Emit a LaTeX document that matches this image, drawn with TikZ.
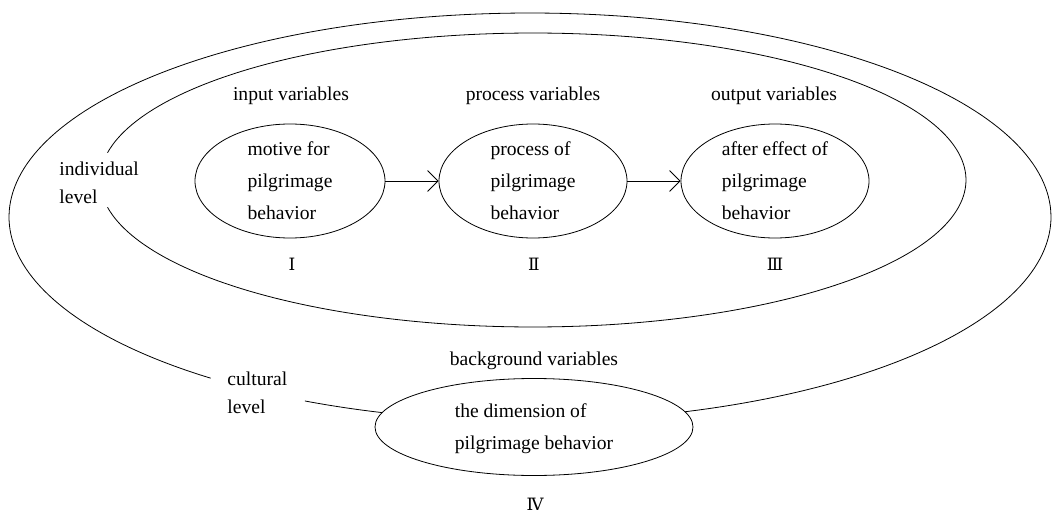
\documentclass[tikz,border=0pt]{standalone}
\usepackage{fontspec}
\setmainfont{Liberation Serif}
\newfontfamily\romfont{DejaVu Serif}
\usetikzlibrary{shapes.geometric,arrows.meta}
\begin{document}
\begin{tikzpicture}[x=1pt,y=-1pt,
  line width=0.8pt,
  txt/.style={inner sep=0pt, font=\fontsize{19.6}{28}\selectfont},
  oval/.style={ellipse, draw, inner sep=0pt, align=left, text depth=0pt,
     font=\fontsize{19.6}{32}\selectfont},
  num/.style={inner sep=0pt, anchor=base, font=\romfont\fontsize{17}{20}\selectfont},
  conn/.style={-{Straight Barb[length=10.5pt,width=21pt,line width=0.8pt]}}
]
\useasboundingbox (0,0) rectangle (1052,516);
% outer ellipse (cultural level)
\draw plot[domain=127.8:450, samples=240] ({530+521*cos(\x)}, {217+204*sin(\x)});
\draw plot[domain=90:115.6, samples=40] ({530+521*cos(\x)}, {217+204*sin(\x)});
% inner ellipse (individual level)
\draw plot[domain=-169.3:169.3, samples=240] ({533+433*cos(\x)}, {180+147*sin(\x)});
% variable ellipses
\node[oval, minimum width=190pt, minimum height=114pt] (I) at (290,181)
  {motive for\\pilgrimage\\behavior};
\node[oval, minimum width=188pt, minimum height=114pt] (II) at (533,181)
  {process of\\pilgrimage\\behavior};
\node[oval, minimum width=188pt, minimum height=114pt] (III) at (775,181)
  {after effect of\\pilgrimage\\behavior};
\node[oval, fill=white, minimum width=318pt, minimum height=97pt] (IV) at (534,427)
  {the dimension of\\pilgrimage behavior};
\draw[conn] (I) -- (II);
\draw[conn] (II) -- (III);
% headings
\node[txt, anchor=base] (hin) at (291,101) {input variables};
\node[txt, anchor=base] (hpr) at (533,101) {process variables};
\node[txt, anchor=base] (hout) at (774,101) {output variables};
\node[txt, anchor=base] (hbg) at (534,365) {background variables};
% level labels
\node[txt, anchor=west, align=left, text depth=0pt] (ind) at (59,182.3) {individual\\level};
\node[txt, anchor=west, align=left, text depth=0pt] (cul) at (227,392.5) {cultural\\level};
% numerals
\node[num] (nI) at (292,270) {Ⅰ};
\node[num] (nII) at (534,270) {Ⅱ};
\node[num] (nIII) at (775,270) {Ⅲ};
\node[num] (nIV) at (535,510) {Ⅳ};
\end{tikzpicture}
\end{document}
